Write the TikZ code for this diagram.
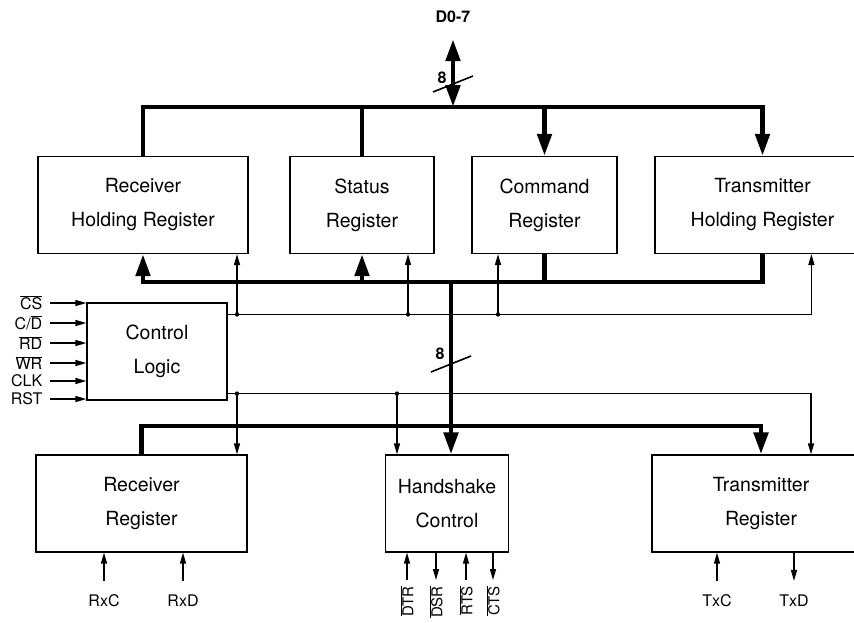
\documentclass[tikz,border=0pt]{standalone}
\usepackage{fontspec}
\setmainfont{TeX Gyre Heros}
\usetikzlibrary{arrows.meta,positioning,calc}

\newcommand{\negsig}[1]{$\overline{\mbox{#1}}$}

\tikzset{
  regbox/.style={draw,line width=1.2pt,align=center,minimum height=97pt,inner sep=0pt,font=\fontsize{19.5}{34}\selectfont},
  bus/.style={line width=4.8pt,>={Triangle[length=22pt,width=14pt]}},
  ctl/.style={line width=1.4pt,>={Triangle[length=11pt,width=6pt]}},
  pinlbl/.style={inner sep=2pt,font=\fontsize{16}{18}\selectfont},
  modemlbl/.style={inner sep=1pt,rotate=90,anchor=east,font=\fontsize{15}{18}\selectfont},
  buslbl/.style={inner sep=2pt,font=\fontsize{16}{18}\selectfont\bfseries}
}

\begin{document}
\begin{tikzpicture}[x=1pt,y=-1pt]
  \useasboundingbox (0,0) rectangle (854,622);
  \clip (0,0) rectangle (854,622);
  % registers
  \node[regbox,minimum width=210pt] (rhr) at (143,205) {Receiver\\Holding Register};
  \node[regbox,minimum width=144pt] (sr) at (362,205) {Status\\Register};
  \node[regbox,minimum width=145pt] (cr) at (544.5,205) {Command\\Register};
  \node[regbox,minimum width=215pt] (thr) at (762.5,205) {Transmitter\\Holding Register};
  \node[regbox,minimum width=140pt] (cl) at (157,351.5) {Control\\Logic};
  \node[regbox,minimum width=211pt] (rr) at (141.5,503.5) {Receiver\\Register};
  \node[regbox,minimum width=123pt] (hc) at (447,503.5) {Handshake\\Control};
  \node[regbox,minimum width=218pt] (tr) at (761,503.5) {Transmitter\\Register};

  % data bus
  \node[buslbl] (d07) at (453,17) {D0-7};
  \coordinate (tbus) at (453,107);
  \coordinate (ibus) at (451,282);
  \coordinate (lbus) at (451,426);
  \coordinate (s1) at (453,84);
  \coordinate (s2) at (451,364);
  \draw[bus,<->] ([yshift=-14pt]d07.south) -- (tbus);
  \draw[bus,->] (rhr.north) |- (tbus) -| (thr.north);
  \draw[bus] (sr.north) -- (sr.north |- tbus);
  \draw[bus,->] (cr.north |- tbus) -- (cr.north);
  \draw[bus,->] (thr.south) |- (ibus) -| (rhr.south);
  \draw[bus,->] (ibus -| sr.south) -- (sr.south);
  \draw[bus] (cr.south) -- (cr.south |- ibus);
  \draw[bus,->] (ibus) -- (ibus |- hc.north);
  \draw[bus,->] (rr.north) |- (lbus) -| (tr.north);
  \foreach \s/\dy in {s1/-6,s2/-10} {
    \draw[line width=1.6pt] ($(\s)+(-20,8)$) -- ($(\s)+(20,-8)$);
    \node[buslbl] at ($(\s)+(-11,\dy)$) {8};
  }

  % control lines
  \coordinate (c1) at ([yshift=-12pt]cl.north east);
  \coordinate (c2) at ([yshift=7pt]cl.south east);
  \draw[ctl,->] (c1) -| ([xshift=157pt]thr.south west);
  \foreach \n/\x in {rhr/237,sr/408,cr/498} {
    \coordinate (tap) at (\x,0);
    \draw[ctl,->] (c1 -| tap) -- (tap |- \n.south);
    \fill (c1 -| tap) circle (2.2pt);
  }
  \draw[ctl,->] (c2) -| ([xshift=50pt]tr.north);
  \foreach \n/\x in {rr/237,hc/397} {
    \coordinate (tap) at (\x,0);
    \draw[ctl,->] (c2 -| tap) -- (tap |- \n.north);
    \fill (c2 -| tap) circle (2.2pt);
  }

  % inputs
  \foreach \y/\s in {303/{\negsig{CS}},323/{C/\negsig{D}},343/{\negsig{RD}},363/{\negsig{WR}},381/{CLK},399/{RST}}
    \draw[ctl,->] (50,\y) node[pinlbl,left=5pt] {\s} -- (cl.west |- 0,\y);

  % serial pins
  \node[pinlbl] (rxc) at (104,601) {RxC};
  \node[pinlbl] (rxd) at (183,601) {RxD};
  \node[pinlbl] (txc) at (717,601) {TxC};
  \node[pinlbl] (txd) at (794,601) {TxD};
  \draw[ctl,->] ([yshift=12pt]rxc.north) -- (rxc |- rr.south);
  \draw[ctl,->] ([yshift=12pt]rxd.north) -- (rxd |- rr.south);
  \draw[ctl,->] ([yshift=12pt]txc.north) -- (txc |- tr.south);
  \draw[ctl,->] (txd |- tr.south) -- ([yshift=12pt]txd.north);

  % modem pins
  \node[modemlbl] (dtr) at (407,585) {\negsig{DTR}};
  \node[modemlbl] (dsr) at (436,585) {\negsig{DSR}};
  \node[modemlbl] (rts) at (466,585) {\negsig{RTS}};
  \node[modemlbl] (cts) at (493,585) {\negsig{CTS}};
  \draw[ctl,->] ([yshift=5pt]dtr.east) -- (dtr |- hc.south);
  \draw[ctl,->] (dsr |- hc.south) -- ([yshift=5pt]dsr.east);
  \draw[ctl,->] ([yshift=5pt]rts.east) -- (rts |- hc.south);
  \draw[ctl,->] (cts |- hc.south) -- ([yshift=5pt]cts.east);
\end{tikzpicture}
\end{document}
